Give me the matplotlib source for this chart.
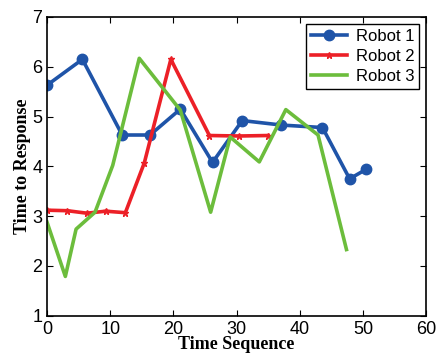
import matplotlib
matplotlib.use("Agg")
import matplotlib.pyplot as plt

x_r1 = [0, 5.6, 11.9, 16.3, 21.1, 26.2, 30.9, 37.1, 43.6, 47.9, 50.5]
y_r1 = [5.63, 6.15, 4.63, 4.63, 5.15, 4.08, 4.92, 4.83, 4.78, 3.75, 3.94]

x_r2 = [0, 3.2, 6.3, 9.3, 12.4, 15.4, 19.6, 25.7, 30.4, 35.0]
y_r2 = [3.12, 3.11, 3.06, 3.10, 3.07, 4.07, 6.15, 4.62, 4.61, 4.62]

x_r3 = [0, 2.9, 4.6, 7.6, 10.4, 14.6, 21.1, 25.9, 29.0, 33.6, 37.8, 42.9, 47.4]
y_r3 = [2.88, 1.79, 2.74, 3.08, 4.02, 6.17, 5.13, 3.08, 4.59, 4.09, 5.14, 4.63, 2.33]

fig = plt.figure(figsize=(4.37, 3.54), dpi=100)
ax = fig.add_axes([0.1076, 0.108, 0.8674, 0.844])

ax.plot(x_r1, y_r1, color='#1f54a8', lw=2.6, marker='o', ms=7.5, label='Robot 1')
ax.plot(x_r2, y_r2, color='#ec2027', lw=2.6, marker='*', ms=5, label='Robot 2')
ax.plot(x_r3, y_r3, color='#6cbd3c', lw=2.6, label='Robot 3')

ax.set_xlim(0, 60)
ax.set_ylim(1, 7)
ax.set_xticks([0, 10, 20, 30, 40, 50, 60])
ax.set_yticks([1, 2, 3, 4, 5, 6, 7])
ax.tick_params(direction='in', top=True, right=True, length=4, labelsize=13)
for lab in ax.get_xticklabels() + ax.get_yticklabels():
    lab.set_fontfamily('Liberation Sans')
for s in ax.spines.values():
    s.set_linewidth(1.2)

ax.set_xlabel('Time Sequence', fontfamily='Liberation Serif', fontweight='bold', fontsize=13, labelpad=-1)
ax.set_ylabel('Time to Response', fontfamily='Liberation Serif', fontweight='bold', fontsize=13, labelpad=1)

leg = ax.legend(loc='upper right', prop={'family': 'Liberation Sans', 'size': 12},
                fancybox=False, edgecolor='black', framealpha=1,
                borderaxespad=0.4, handlelength=2.2, labelspacing=0.3, borderpad=0.3,
                handletextpad=0.5)
leg.get_frame().set_linewidth(1.0)

fig.savefig('out.png', dpi=100)
